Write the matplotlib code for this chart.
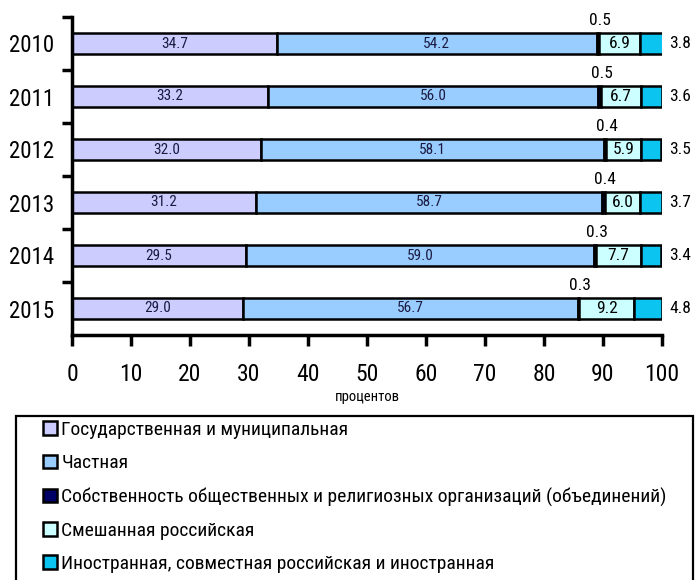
import numpy as np
import matplotlib.pyplot as plt
from matplotlib.patches import Patch, Rectangle

plt.rcParams['font.family'] = ['Roboto Condensed', 'DejaVu Sans']
plt.rcParams['font.stretch'] = 'condensed'

W, H = 697, 580

years = ['2010', '2011', '2012', '2013', '2014', '2015']
state = [34.7, 33.2, 32.0, 31.2, 29.5, 29.0]
private = [54.2, 56.0, 58.1, 58.7, 59.0, 56.7]
public_org = [0.5, 0.5, 0.4, 0.4, 0.3, 0.3]
mixed = [6.9, 6.7, 5.9, 6.0, 7.7, 9.2]
foreign = [3.8, 3.6, 3.5, 3.7, 3.4, 4.8]

labels = ['Государственная и муниципальная',
          'Частная',
          'Собственность общественных и религиозных организаций (объединений)',
          'Смешанная российская',
          'Иностранная, совместная российская и иностранная']
colors = ['#ccccff', '#99ccff', '#000066', '#ccffff', '#0bc4f0']

series = [state, private, public_org, mixed, foreign]

fig = plt.figure(figsize=(W/100, H/100), dpi=100)
ax = fig.add_axes([72/W, 1-335/H, 590/W, 318/H])

y = np.arange(len(years))
left = np.zeros(len(years))
for vals, c in zip(series, colors):
    ax.barh(y, vals, left=left, height=0.40, color=c, edgecolor='black', linewidth=1.8)
    left = left + np.array(vals)

# labels
for i in range(len(years)):
    ax.text(state[i]/2, y[i], f'{state[i]:.1f}', ha='center', va='center', fontsize=11, color='#1a1a40')
    ax.text(state[i] + private[i]/2, y[i], f'{private[i]:.1f}', ha='center', va='center', fontsize=11, color='#1a1a40')
    x0 = state[i] + private[i]
    ax.text(x0 + public_org[i]/2 + 0.3, y[i] - 0.44, f'{public_org[i]:.1f}', ha='center', va='center', fontsize=12.5)
    x1 = x0 + public_org[i]
    ax.text(x1 + mixed[i]/2, y[i], f'{mixed[i]:.1f}', ha='center', va='center', fontsize=12.5)
    ax.text(103.1, y[i], f'{foreign[i]:.1f}', ha='center', va='center', fontsize=12.5, clip_on=False)

ax.set_xlim(0, 100)
ax.set_ylim(len(years) - 0.5, -0.5)
ax.set_yticks(y)
ax.set_yticklabels(years, fontsize=16.5)
ax.set_yticks(np.arange(-0.5, len(years) - 0.5, 1), minor=True)
ax.tick_params(axis='y', which='major', length=0, pad=13)
ax.tick_params(axis='y', which='minor', length=7, width=2.5, direction='out')
ax.set_xticks(np.arange(0, 101, 10))
ax.tick_params(axis='x', labelsize=17, length=8, width=2.5, pad=12)
ax.spines['top'].set_visible(False)
ax.spines['right'].set_visible(False)
ax.spines['left'].set_linewidth(2.5)
ax.spines['bottom'].set_linewidth(2.5)
ax.set_xlabel('процентов', fontsize=10.5, labelpad=3)

# legend frame runs off the bottom edge, as in the source
fig.patches.append(Rectangle((16/W, -0.05), (693-16)/W, 0.05 + 1-416/H, transform=fig.transFigure,
                             fill=False, edgecolor='black', linewidth=1.6))

handles = [Patch(facecolor=c, edgecolor='black', linewidth=1.8) for c in colors]
leg = fig.legend(handles, labels, loc='upper left', bbox_to_anchor=(43/W, 1-421/H),
                 fontsize=14, frameon=False,
                 handlelength=0.7, handleheight=0.7, handletextpad=0.25, labelspacing=0.78,
                 borderpad=0, borderaxespad=0)
for h in leg.legend_handles:
    h.set_linewidth(1.8)

fig.savefig('out.png', dpi=100)
